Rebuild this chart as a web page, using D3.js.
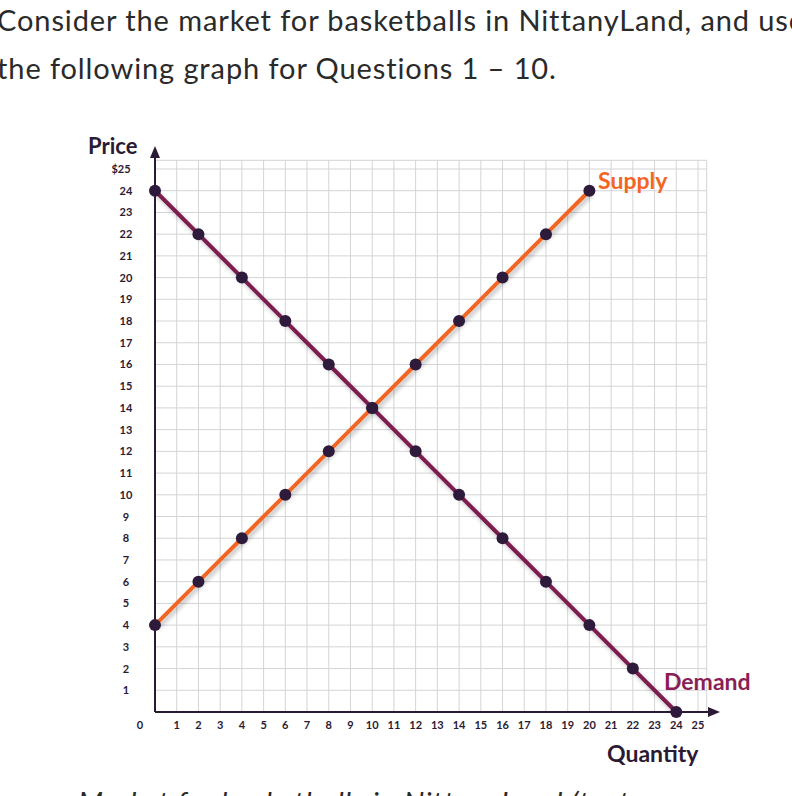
<!DOCTYPE html>
<html><head><meta charset="utf-8">
<script src="https://cdn.jsdelivr.net/npm/d3@7"></script>
<style>body{margin:0;background:#fff;} text{font-family:Lato,"Open Sans",sans-serif;}</style>
</head><body>
<script>
// market data: points along each curve
var supplyQ = [0, 2, 4, 6, 8, 10, 12, 14, 16, 18, 20];
var supplyP = [4, 6, 8, 10, 12, 14, 16, 18, 20, 22, 24];
var demandQ = [0, 2, 4, 6, 8, 10, 12, 14, 16, 18, 20, 22, 24];
var demandP = [24, 22, 20, 18, 16, 14, 12, 10, 8, 6, 4, 2, 0];
var xTicks = d3.range(1, 26);
var yTicks = d3.range(1, 25);

var svg = d3.select('body').append('svg').attr('width', 792).attr('height', 796);

svg.append('text').attr('x', -3).attr('y', 31).attr('font-size', 29).attr('letter-spacing', 0.9).attr('fill', '#2a2a2a')
  .text('Consider the market for basketballs in NittanyLand, and use');
svg.append('text').attr('x', -3).attr('y', 79).attr('font-size', 29).attr('letter-spacing', 0.9).attr('fill', '#2a2a2a')
  .text('the following graph for Questions 1 \u2013 10.');
svg.append('text').attr('x', 78).attr('y', 813).attr('font-size', 29).attr('font-style', 'italic').attr('letter-spacing', 0.9).attr('fill', '#2a2a2a')
  .text('Market for basketballs in NittanyLand (text');

var x = d3.scaleLinear().domain([0, 25]).range([155, 698]);
var y = d3.scaleLinear().domain([0, 25]).range([712, 169]);

var defs = svg.append('defs');
var f = defs.append('filter').attr('id', 'sh').attr('x', '-10%').attr('y', '-10%').attr('width', '130%').attr('height', '130%');
f.append('feDropShadow').attr('dx', 2).attr('dy', 3).attr('stdDeviation', 2).attr('flood-color', '#000').attr('flood-opacity', 0.25);

// grid
var g = svg.append('g');
g.selectAll('.vx').data(xTicks.concat([25.4])).enter().append('line')
  .attr('x1', d => x(d)).attr('x2', d => x(d))
  .attr('y1', y(25.4)).attr('y2', y(0)).attr('stroke', '#d4d4d8').attr('stroke-width', 1);
g.selectAll('.hy').data(d3.range(1, 26).concat([25.4])).enter().append('line')
  .attr('y1', d => y(d)).attr('y2', d => y(d))
  .attr('x1', x(0)).attr('x2', x(25.4)).attr('stroke', '#d4d4d8').attr('stroke-width', 1);

// axes
var axc = '#2b1a33';
svg.append('line').attr('x1', x(0)).attr('x2', x(0)).attr('y1', y(0)).attr('y2', 152).attr('stroke', axc).attr('stroke-width', 2);
svg.append('path').attr('d', `M${x(0)-5},${158} L${x(0)},${146} L${x(0)+5},${158}Z`).attr('fill', axc);
svg.append('line').attr('x1', x(0)).attr('x2', 714).attr('y1', y(0)).attr('y2', y(0)).attr('stroke', axc).attr('stroke-width', 2);
svg.append('path').attr('d', `M708,${y(0)-5} L720,${y(0)} L708,${y(0)+5}Z`).attr('fill', axc);

svg.selectAll('.yt').data(yTicks).enter().append('text')
  .attr('x', 126).attr('y', d => y(d) + 4).attr('text-anchor', 'middle')
  .attr('font-size', 11).attr('font-weight', 'bold').attr('fill', axc).text(d => d);
svg.append('text').attr('x', 121).attr('y', y(25) + 4).attr('text-anchor', 'middle')
  .attr('font-size', 11).attr('font-weight', 'bold').attr('fill', axc).text('$25');
svg.selectAll('.xt').data(xTicks).enter().append('text')
  .attr('x', d => x(d)).attr('y', 729).attr('text-anchor', 'middle')
  .attr('font-size', 11).attr('font-weight', 'bold').attr('fill', axc).text(d => d);
svg.append('text').attr('x', 140).attr('y', 729).attr('text-anchor', 'middle')
  .attr('font-size', 11).attr('font-weight', 'bold').attr('fill', axc).text('0');

svg.append('text').attr('x', 88).attr('y', 154).attr('font-size', 22).attr('font-weight', 'bold').attr('fill', axc).text('Price');
svg.append('text').attr('x', 607).attr('y', 762).attr('font-size', 23).attr('font-weight', 'bold').attr('fill', axc).text('Quantity');

// curves
var line = d3.line().x(d => x(d[0])).y(d => y(d[1]));
var sData = d3.zip(supplyQ, supplyP), dData = d3.zip(demandQ, demandP);
svg.append('path').datum(dData).attr('d', line).attr('fill', 'none')
  .attr('stroke', '#7d1f4f').attr('stroke-width', 4).attr('filter', 'url(#sh)');
svg.append('path').datum(sData).attr('d', line).attr('fill', 'none')
  .attr('stroke', '#f26522').attr('stroke-width', 4).attr('filter', 'url(#sh)');

svg.selectAll('.pt').data(sData.concat(dData)).enter().append('circle')
  .attr('cx', d => x(d[0])).attr('cy', d => y(d[1])).attr('r', 6).attr('fill', '#2e1a3a');

svg.append('text').attr('x', 598).attr('y', 189).attr('font-size', 23).attr('font-weight', 'bold').attr('fill', '#f26522').text('Supply');
svg.append('text').attr('x', 664).attr('y', 690).attr('font-size', 23).attr('font-weight', 'bold').attr('fill', '#8b1f55').text('Demand');
</script>
</body></html>
